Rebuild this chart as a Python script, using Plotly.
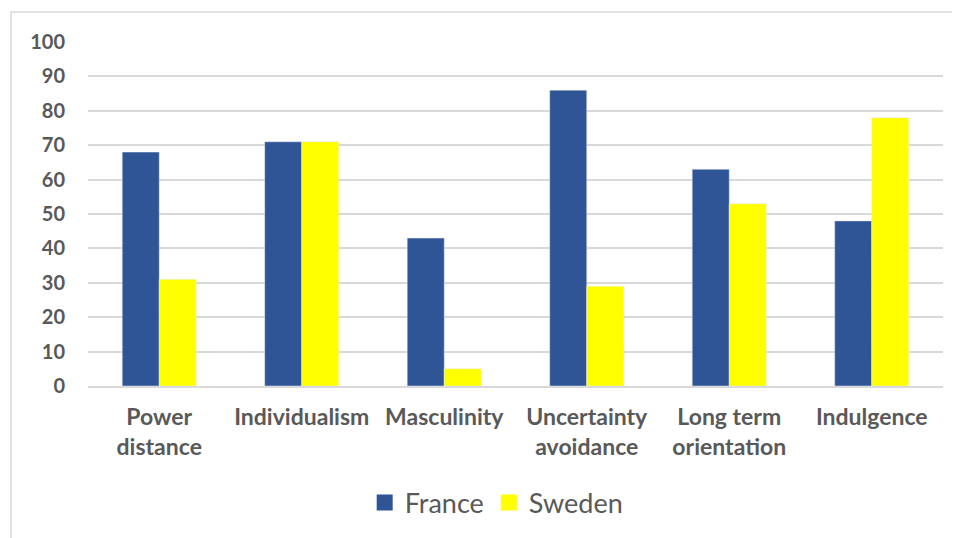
import plotly.graph_objects as go

categories = ["Power<br>distance", "Individualism", "Masculinity", "Uncertainty<br>avoidance", "Long term<br>orientation", "Indulgence"]
france = [68, 71, 43, 86, 63, 48]
sweden = [31, 71, 5, 29, 53, 78]
y_ticks = list(range(0, 101, 10))

FONT = "Lato"
TXT = "#595959"
BLUE = "#2F5597"
YELLOW = "#FFFF00"

fig = go.Figure()
fig.add_trace(go.Bar(name="France", x=categories, y=france, marker_color=BLUE, showlegend=False))
fig.add_trace(go.Bar(name="Sweden", x=categories, y=sweden, marker_color=YELLOW, showlegend=False))
# legend swatches (larger squares than the default bar swatch)
for name, col in [("France", BLUE), ("Sweden", YELLOW)]:
    fig.add_trace(go.Scatter(name=name, x=[None], y=[None], mode="markers",
                             marker=dict(symbol="square", size=16, color=col), showlegend=True))

fig.update_layout(
    width=960, height=538,
    margin=dict(l=80, r=25, t=34, b=160),
    paper_bgcolor="white", plot_bgcolor="white",
    barmode="group", bargap=0.48, bargroupgap=0,
    font=dict(family=FONT, color=TXT),
    legend=dict(orientation="h", x=0.478, xanchor="center", y=-0.34, yanchor="middle",
                font=dict(family=FONT, size=27, color=TXT), itemwidth=30,
                traceorder="normal"),
    shapes=[dict(type="rect", xref="paper", yref="paper",
                 x0=-0.090, x1=1.2, y0=-0.6, y1=1.087,
                 line=dict(color="#D9D9D9", width=1.5), fillcolor="rgba(0,0,0,0)", layer="below")],
)
fig.update_xaxes(tickfont=dict(family=FONT, size=23, color=TXT, weight="bold"),
                 showline=True, linecolor="#D9D9D9", linewidth=1.5, ticks="",
                 ticklabelstandoff=10)
fig.update_yaxes(range=[0, 100], tickvals=y_ticks, showgrid=True, gridcolor="#D9D9D9", gridwidth=1.5,
                 tickfont=dict(family=FONT, size=20, color=TXT, weight="bold"),
                 showline=False, zeroline=False, ticks="", ticklabelstandoff=22)

fig.write_html("out.html")
